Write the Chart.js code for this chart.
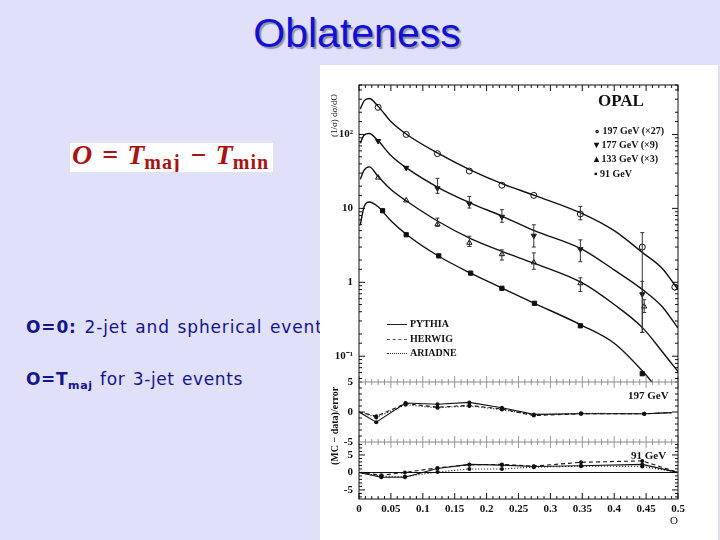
<!DOCTYPE html>
<html>
<head>
<meta charset="utf-8">
<script src="https://cdn.jsdelivr.net/npm/chart.js@4.4.1/dist/chart.umd.min.js"></script>
<style>
  body { margin: 0; width: 720px; height: 540px; background: #e0e0f8; position: relative; overflow: hidden; }
  #title { position: absolute; left: 0; top: 10px; width: 714px; text-align: center; font: 41px "Liberation Sans", Arial, sans-serif; color: #1010d8; text-shadow: 2px 2px 1px #9090a8; }
  #formula { position: absolute; left: 70px; top: 143px; width: 201px; height: 29px; padding-left: 2px; background: #fff; color: #a81414; font: bold italic 28px "Liberation Serif", serif; line-height: 24px; white-space: nowrap; overflow: hidden; }
  #formula .op { font-style: normal; margin: 0 9px 0 10px; }
  #formula sub { font-style: normal; font-size: 20px; vertical-align: -5px; letter-spacing: 1px; }
  .txt { position: absolute; left: 26px; color: #14148c; font: 17px "DejaVu Sans", sans-serif; letter-spacing: 0.6px; word-spacing: 1.5px; white-space: nowrap; }
  .txt b { font-weight: bold; }
  .txt sub { font-size: 11px; font-weight: bold; }
  #panel { position: absolute; left: 320px; top: 65px; width: 398px; height: 475px; background: #fff; }
  #chart { position: absolute; left: 0; top: 0; }
  .lbl { position: absolute; font: bold 10px "Liberation Serif", serif; color: #111; white-space: nowrap; line-height: 12px; }
  .ln { position: absolute; width: 20px; height: 0; border-top: 1px solid #222; }
</style>
</head>
<body>
<div id="title">Oblateness</div>
<div id="formula">O<span class="op">=</span>T<sub>maj</sub><span class="op">−</span>T<sub>min</sub></div>
<div class="txt" style="top:317px;letter-spacing:0.85px"><b>O=0:</b> 2-jet and spherical events</div>
<div class="txt" style="top:369px"><b>O=T<sub>maj</sub></b> for 3-jet events</div>

<div id="panel">
  <canvas id="chart" width="398" height="475"></canvas>
  <div class="lbl" style="left:278px;top:26px;font-size:17px;line-height:20px">OPAL</div>
  <div class="lbl" style="left:274px;top:60px">∘ 197 GeV (×27)</div>
  <div class="lbl" style="left:274px;top:74px">▾ 177 GeV (×9)</div>
  <div class="lbl" style="left:274px;top:88px">▴ 133 GeV (×3)</div>
  <div class="lbl" style="left:274px;top:103px">▪ 91 GeV</div>
  <div class="ln" style="left:67px;top:259px"></div>
  <div class="ln" style="left:67px;top:274px;border-top:1px dashed #555"></div>
  <div class="ln" style="left:67px;top:288px;border-top:1px dotted #333"></div>
  <div class="lbl" style="left:90px;top:253px">PYTHIA</div>
  <div class="lbl" style="left:90px;top:268px">HERWIG</div>
  <div class="lbl" style="left:90px;top:282px">ARIADNE</div>
  <div class="lbl" style="left:308px;top:324px;font-size:11px">197 GeV</div>
  <div class="lbl" style="left:311px;top:384px;font-size:11px">91 GeV</div>
  <div class="lbl" style="left:8px;top:22px;font-size:9px;font-weight:normal;transform-origin:0 0;transform:rotate(-90deg) translate(-50px,0)">(1/σ) dσ/dO</div>
  <div class="lbl" style="left:9px;top:400px;transform-origin:0 0;transform:rotate(-90deg)">(MC − data)/error</div>
</div>

<script>
// measured points, main panel (scaled spectra)
const x197 = [0.030, 0.074, 0.123, 0.173, 0.224, 0.274, 0.347, 0.444, 0.495];
const d197 = [233, 100, 55, 32, 20.6, 15, 8.4, 3.0, 0.86];
const lo197 = [null, null, null, null, null, null, 7.0, 0.21, null];
const hi197 = [null, null, null, null, null, null, 10.6, 4.7, null];

const x177 = [0.030, 0.074, 0.123, 0.173, 0.224, 0.274, 0.347, 0.444];
const d177 = [81.5, 35.4, 18.7, 11.6, 7.7, 4.27, 2.81, 0.69];
const lo177 = [null, null, 16, 10.1, 6.5, 3.0, 1.9, 0.21];
const hi177 = [null, null, 25.5, 14.5, 9.6, 6.0, 3.75, 1.03];

const x133 = [0.030, 0.074, 0.123, 0.173, 0.224, 0.274, 0.347, 0.447];
const d133 = [26.1, 12.8, 6.1, 3.42, 2.4, 1.86, 0.97, 0.47];
const lo133 = [null, null, 5.7, 3.05, 2.0, 1.5, 0.75, 0.39];
const hi133 = [null, null, 7.4, 4.2, 2.75, 2.5, 1.15, 0.58];

const x91 = [0.037, 0.074, 0.125, 0.175, 0.224, 0.275, 0.347, 0.444];
const d91 = [9.3, 4.4, 2.28, 1.33, 0.83, 0.52, 0.258, 0.058];

// PYTHIA curves
const curveX = [0.002, 0.008, 0.016, 0.03, 0.05, 0.075, 0.125, 0.175, 0.225, 0.275, 0.35, 0.4, 0.445, 0.475, 0.5];
const py197 = [221, 285, 306, 240, 150, 100, 55, 33, 21.5, 15, 8.5, 5.0, 2.5, 1.55, 0.8];
const py177 = [76, 98, 103, 82, 52, 35, 19, 11.8, 7.8, 5.0, 2.8, 1.47, 0.79, 0.47, 0.24];
const py133 = [24.8, 33, 36.5, 27, 18, 12.5, 6.6, 3.9, 2.6, 1.8, 0.98, 0.5, 0.24, 0.116, 0.062];
const py91 = [6.0, 10.5, 12.2, 10.5, 6.8, 4.4, 2.25, 1.33, 0.83, 0.52, 0.26, 0.15, 0.062, 0.03, 0.015];

// (MC - data)/error, 197 GeV
const xr197 = [0, 0.027, 0.073, 0.123, 0.173, 0.224, 0.274, 0.348, 0.447, 0.49];
const r197py = [0, -1.7, 1.5, 1.3, 1.6, 0.7, -0.4, -0.3, -0.3, -0.1];
const r197hw = [0, -0.7, 1.4, 0.8, 1.1, 0.5, -0.6, -0.3, -0.3, -0.1];
const r197ar = [0, -0.9, 1.2, 0.7, 1.0, 0.4, -0.5, -0.2, -0.3, -0.1];

// (MC - data)/error, 91 GeV
const xr91 = [0, 0.035, 0.072, 0.123, 0.173, 0.224, 0.274, 0.348, 0.444, 0.5];
const r91py = [0, -1.4, -1.4, 1.1, 2.3, 2.1, 1.7, 1.9, 2.3, 0];
const r91hw = [0, -0.8, 0, 1.3, 2.2, 2.3, 1.8, 2.9, 3.3, 0];
const r91ar = [0, -1.1, -1.2, 0.1, 1.0, 1.0, 1.5, 1.8, 1.7, 0];

const xy = (xs, ys) => xs.map((x, i) => ({ x: x, y: ys[i] }));
const serif = "'Liberation Serif', 'Times New Roman', serif";

function curve(ys) {
    return { data: xy(curveX, ys), yAxisID: 'y', borderColor: '#111', borderWidth: 1.4,
             pointRadius: 0, cubicInterpolationMode: 'monotone', showLine: true };
}
function points(xs, ys, style, filled, rot, lo, hi) {
    return { data: xy(xs, ys), yAxisID: 'y', showLine: false, pointStyle: style, rotation: rot || 0,
             pointRadius: 3, borderWidth: 1, borderColor: '#111',
             backgroundColor: filled ? '#111' : '#fff', errLo: lo, errHi: hi };
}
function ratio(xs, ys, axis, dash) {
    const n = xs.length - 1;
    return { data: xy(xs, ys), yAxisID: axis, showLine: true, borderColor: '#111', borderWidth: 1.1,
             borderDash: dash, pointRadius: c => (c.dataIndex === 0 || c.dataIndex === n) ? 0 : 2,
             pointBackgroundColor: '#111', pointBorderWidth: 0 };
}

function hline(c, x0, x1, y) { c.beginPath(); c.moveTo(x0, y); c.lineTo(x1, y); c.stroke(); }
function vline(c, x, y0, y1) { c.beginPath(); c.moveTo(x, y0); c.lineTo(x, y1); c.stroke(); }

// error bars, frame and inner tick marks
const extras = {
    id: 'extras',
    afterDatasetsDraw(chart) {
        const c = chart.ctx, a = chart.chartArea, sx = chart.scales.x, sy = chart.scales.y;
        const s197 = chart.scales.y197, s91 = chart.scales.y91;
        c.save();
        c.beginPath();
        c.rect(a.left, sy.top, a.right - a.left, sy.bottom - sy.top);
        c.clip();
        c.strokeStyle = '#333';
        c.lineWidth = 1;
        chart.data.datasets.forEach(ds => {
            if (!ds.errLo) return;
            ds.data.forEach((p, i) => {
                if (ds.errLo[i] == null) return;
                const px = sx.getPixelForValue(p.x);
                const yl = sy.getPixelForValue(ds.errLo[i]), yh = sy.getPixelForValue(ds.errHi[i]);
                vline(c, px, yl, yh);
                hline(c, px - 2, px + 2, yh);
                hline(c, px - 2, px + 2, yl);
            });
        });
        c.restore();

        c.save();
        c.lineWidth = 1;
        // x ticks along top, panel joins and bottom
        const edges = [[a.top, 1, '#111'], [s197.top, 0, '#999'], [s91.top, 0, '#999'], [a.bottom, -1, '#111']];
        for (let k = 0; k <= 50; k++) {
            const px = sx.getPixelForValue(k / 100);
            const len = k % 5 === 0 ? 6 : 3;
            edges.forEach(([y, dir, col]) => {
                c.strokeStyle = col;
                if (dir === 0) vline(c, px, y - len, y + len);
                else vline(c, px, y, y + dir * len);
            });
        }
        // y ticks on both sides
        c.strokeStyle = '#111';
        sy.ticks.forEach(t => {
            const py = sy.getPixelForValue(t.value);
            if (py < sy.top || py > sy.bottom) return;
            const len = t.major ? 6 : 3;
            hline(c, a.left, a.left + len, py);
            hline(c, a.right - len, a.right, py);
        });
        [s197, s91].forEach(s => {
            for (let v = -7; v <= 8; v++) {
                const py = s.getPixelForValue(v);
                if (py < s.top + 1 || py > s.bottom - 1) continue;
                const len = v % 5 === 0 ? 6 : 3;
                hline(c, a.left, a.left + len, py);
                hline(c, a.right - len, a.right, py);
            }
        });
        c.strokeRect(a.left, a.top, a.right - a.left, a.bottom - a.top);
        c.strokeStyle = '#888';
        hline(c, a.left, a.right, s197.top);
        hline(c, a.left, a.right, s91.top);
        c.restore();
    }
};

const fixW = s => { s.width = 39; };
const tickFont = { family: serif, size: 11, weight: 'bold' };
const noGrid = { display: false, drawTicks: false };

new Chart(document.getElementById('chart'), {
    type: 'line',
    data: {
        datasets: [
            curve(py197), curve(py177), curve(py133), curve(py91),
            points(x197, d197, 'circle', false, 0, lo197, hi197),
            points(x177, d177, 'triangle', true, 180, lo177, hi177),
            points(x133, d133, 'triangle', false, 0, lo133, hi133),
            points(x91, d91, 'rect', true, 0),
            ratio(xr197, r197py, 'y197', []),
            ratio(xr197, r197hw, 'y197', [4, 3]),
            ratio(xr197, r197ar, 'y197', [1, 2]),
            ratio(xr91, r91py, 'y91', []),
            ratio(xr91, r91hw, 'y91', [4, 3]),
            ratio(xr91, r91ar, 'y91', [1, 2])
        ]
    },
    options: {
        responsive: false,
        animation: false,
        layout: { padding: { top: 20, right: 40, left: 0, bottom: 0 } },
        plugins: { legend: { display: false }, tooltip: { enabled: false } },
        scales: {
            x: {
                type: 'linear', min: 0, max: 0.5,
                grid: noGrid,
                border: { display: false },
                ticks: { stepSize: 0.05, font: tickFont, color: '#111', maxRotation: 0, autoSkip: false, padding: 4,
                         callback: v => String(+v.toFixed(2)) },
                title: { display: true, text: 'O', align: 'end', font: { family: serif, size: 11 }, color: '#111',
                         padding: { top: 0, bottom: 12 } },
                afterFit: s => { s.height = 41; }
            },
            y91: {
                type: 'linear', position: 'left', stack: 'panels', stackWeight: 57,
                min: -7.6, max: 8.7,
                grid: { color: c => c.tick.value === 0 ? '#111' : 'rgba(0,0,0,0)', drawTicks: false },
                border: { display: false },
                afterBuildTicks: s => { s.ticks = [{ value: -5 }, { value: 0 }, { value: 5 }]; },
                ticks: { font: tickFont, color: '#111', padding: 6, autoSkip: false },
                afterFit: fixW
            },
            y197: {
                type: 'linear', position: 'left', stack: 'panels', stackWeight: 60,
                min: -5, max: 5,
                grid: noGrid,
                border: { display: false },
                afterBuildTicks: s => { s.ticks = [{ value: -5 }, { value: 0 }, { value: 5 }]; },
                ticks: { font: tickFont, color: '#111', padding: 6, autoSkip: false },
                afterFit: fixW
            },
            y: {
                type: 'logarithmic', position: 'left', stack: 'panels', stackWeight: 297,
                min: 0.0448, max: 467,
                grid: noGrid,
                border: { display: false },
                ticks: { font: tickFont, color: '#111', autoSkip: false, padding: 6,
                         callback: v => ({ 0.1: '10⁻¹', 1: '1', 10: '10', 100: '10²' })[v] || '' },
                afterFit: fixW
            }
        }
    },
    plugins: [extras]
});
</script>
</body>
</html>
